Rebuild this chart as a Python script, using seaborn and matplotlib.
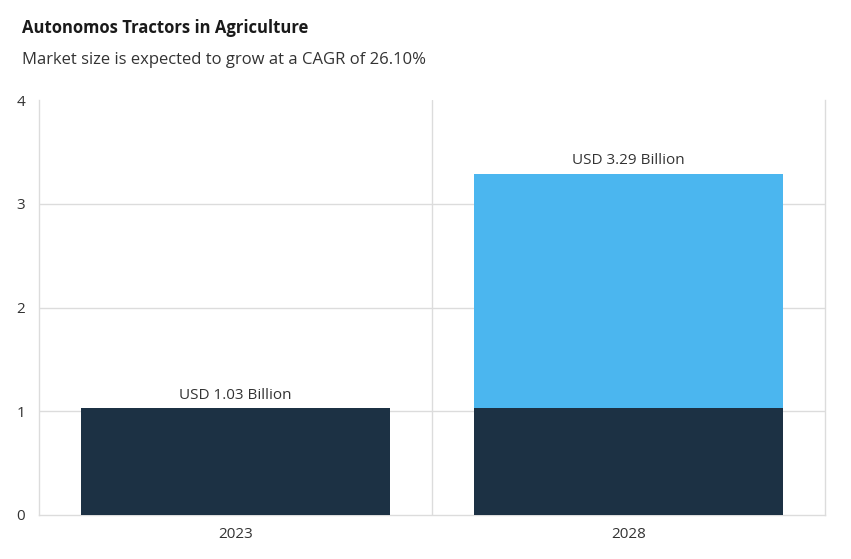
import matplotlib
matplotlib.use("Agg")
import matplotlib.pyplot as plt
import seaborn as sns
import pandas as pd

years = ["2023", "2028"]
base_values = [1.03, 1.03]
total_values = [1.03, 3.29]
value_labels = ["USD 1.03 Billion", "USD 3.29 Billion"]
y_ticks = [0, 1, 2, 3, 4]

sns.set_theme(style="white")
plt.rcParams["font.family"] = ["Open Sans", "DejaVu Sans"]

df = pd.DataFrame({"year": years, "base": base_values, "total": total_values})

fig = plt.figure(figsize=(8.51, 5.59), dpi=100)
ax = fig.add_axes([39/851, 1-515/559, (825-39)/851, (515-100)/559])

sns.barplot(data=df, x="year", y="total", order=years, color="#4bb6ef",
            saturation=1, width=0.785, ax=ax, zorder=3, linewidth=0)
sns.barplot(data=df, x="year", y="base", order=years, color="#1c3144",
            saturation=1, width=0.785, ax=ax, zorder=4, linewidth=0)

ax.set_xlim(-0.5, 1.5)
ax.set_ylim(0, 4)
ax.set_yticks(y_ticks)
ax.set_yticklabels([str(t) for t in y_ticks])
for t in [1, 2, 3]:
    ax.axhline(t, color="#dcdcdc", lw=1, zorder=1)
ax.axvline(0.5, color="#dcdcdc", lw=1, zorder=1)
for s in ["left", "right", "bottom"]:
    ax.spines[s].set_visible(True)
    ax.spines[s].set_color("#dcdcdc")
    ax.spines[s].set_linewidth(1)
ax.spines["top"].set_visible(False)
ax.set_xlabel("")
ax.set_ylabel("")
ax.tick_params(axis="both", length=0, labelsize=11, colors="#333333")
ax.tick_params(axis="y", pad=10)
ax.tick_params(axis="x", pad=9)

for i, (v, lab) in enumerate(zip(total_values, value_labels)):
    ax.annotate(lab, (i, v), xytext=(0, 4), textcoords="offset points",
                ha="center", va="bottom", fontsize=11, color="#333333")

fig.text(22/851, 1-28/559, "Autonomos Tractors in Agriculture", fontsize=12,
         fontweight="bold", color="#1a1a1a", va="center", ha="left")
fig.text(22/851, 1-60/559, "Market size is expected to grow at a CAGR of 26.10%",
         fontsize=12, color="#333333", va="center", ha="left")

fig.savefig("out.png", dpi=100)
